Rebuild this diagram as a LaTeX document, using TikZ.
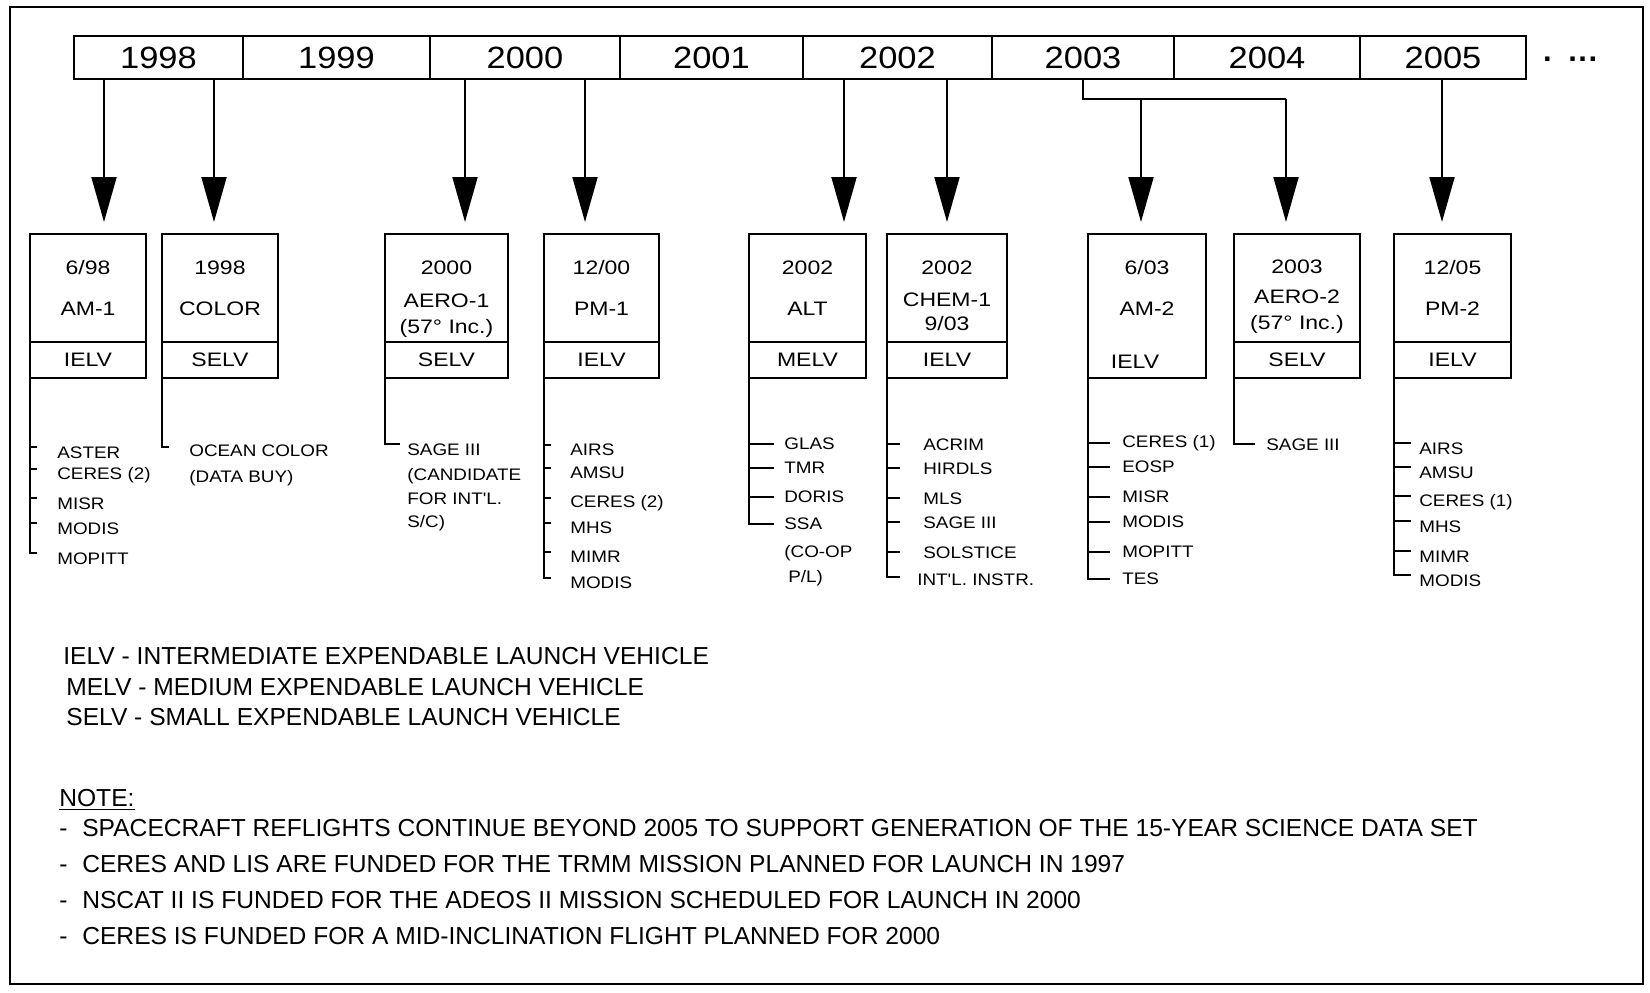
\documentclass[tikz,border=0pt]{standalone}
\usepackage{fontspec}
\setmainfont{Liberation Sans}
\newfontfamily\yrfont[FakeStretch=1.12]{Liberation Sans}
\newfontfamily\bxfont[FakeStretch=1.18]{Liberation Sans}
\newfontfamily\insfont[FakeStretch=1.13]{Liberation Sans}
\usetikzlibrary{arrows.meta}

\tikzset{
  yearcell/.style={draw, line width=1.4pt, minimum height=0.86cm, inner sep=0pt, outer sep=0pt,
    font=\yrfont\fontsize{17.5}{20}\selectfont},
  msnbox/.style={draw, line width=1.4pt, minimum height=2.16cm, inner sep=0pt, outer sep=0pt},
  elvbox/.style={msnbox, minimum height=0.72cm, font=\bxfont\fontsize{11.1}{13}\selectfont},
  bxtxt/.style={inner sep=0pt, font=\bxfont\fontsize{11.1}{13}\selectfont},
  instr/.style={anchor=west, inner sep=0pt, font=\insfont\fontsize{9.5}{11}\selectfont},
  lst/.style={line width=1.3pt, line cap=rect},
  legtxt/.style={anchor=west, inner sep=0pt, font=\fontsize{14}{16}\selectfont},
  downarr/.style={line width=1.1pt, -{Triangle[length=0.9cm,width=0.5cm]}},
}

\begin{document}
\begin{tikzpicture}[x=0.02cm, y=-0.02cm]
  \useasboundingbox (0,0) rectangle (1650,992);
  \draw[line width=1.1pt] (10,7) rectangle (1643,984);

  % year bar
  \foreach \yr/\cx/\bw in {1998/158.5/3.38, 1999/336.5/3.74, 2000/525/3.8, 2001/711.5/3.66,
      2002/897.5/3.78, 2003/1083/3.64, 2004/1267/3.72, 2005/1443/3.32}
    \node[yearcell, minimum width=\bw cm] (y\yr) at (\cx,57.5) {\yr};
  \node[inner sep=0pt, font=\bfseries\fontsize{17.5}{20}\selectfont] (more) at (1571,63) {·\hspace{0.3cm}···};

  % spacecraft boxes
  \foreach \nm/\cx/\bw/\elv in {am1/88/2.32/IELV, col/220/2.32/SELV, aer1/446.5/2.46/SELV,
      pm1/601.5/2.30/IELV, alt/807.5/2.34/MELV, chem/947/2.40/IELV, aer2/1297/2.52/SELV,
      pm2/1452.5/2.34/IELV} {
    \node[msnbox, minimum width=\bw cm] (\nm) at (\cx,288) {};
    \node[elvbox, minimum width=\bw cm] (\nm elv) at (\cx,360) {\elv};
  }
  \node[msnbox, minimum width=2.36cm, minimum height=2.88cm] (am2) at (1147,306) {};
  \node[bxtxt] (am2elv) at (1135,362) {IELV};

  \foreach \nm/\cx/\dt/\sc in {am1/88/{6/98}/AM-1, col/220/1998/COLOR, pm1/601.5/{12/00}/PM-1,
      alt/807.5/2002/ALT, am2/1147/{6/03}/AM-2, pm2/1452.5/{12/05}/PM-2} {
    \node[bxtxt] (\nm d) at (\cx,268) {\dt};
    \node[bxtxt] (\nm n) at (\cx,309) {\sc};
  }
  \node[bxtxt] (aer1d) at (446.5,268) {2000};
  \node[bxtxt] (aer1n) at (446.5,301) {AERO-1};
  \node[bxtxt] (aer1i) at (446.5,328) {(57° Inc.)};
  \node[bxtxt] (chemd) at (947,268) {2002};
  \node[bxtxt] (chemn) at (947,300) {CHEM-1};
  \node[bxtxt] (chemm) at (947,324) {9/03};
  \node[bxtxt] (aer2d) at (1297,267) {2003};
  \node[bxtxt] (aer2n) at (1297,297) {AERO-2};
  \node[bxtxt] (aer2i) at (1297,324) {(57° Inc.)};

  % launch arrows
  \coordinate (tam1) at (104,222);
  \coordinate (tcol) at (214,222);
  \coordinate (taer1) at (465,222);
  \coordinate (tpm1) at (585,222);
  \coordinate (talt) at (844,222);
  \coordinate (tchem) at (947,222);
  \coordinate (tam2) at (1141,222);
  \coordinate (taer2) at (1286,222);
  \coordinate (tpm2) at (1442,222);
  \coordinate (brk) at (1083,99);
  \draw[downarr] (tam1 |- y1998.south) -- (tam1);
  \draw[downarr] (tcol |- y1998.south) -- (tcol);
  \draw[downarr] (taer1 |- y2000.south) -- (taer1);
  \draw[downarr] (tpm1 |- y2000.south) -- (tpm1);
  \draw[downarr] (talt |- y2002.south) -- (talt);
  \draw[downarr] (tchem |- y2002.south) -- (tchem);
  \draw[downarr] (tpm2 |- y2005.south) -- (tpm2);
  \draw[line width=1.1pt] (y2003.south) -- (brk) -- (brk -| taer2);
  \draw[downarr] (brk -| tam2) -- (tam2);
  \draw[downarr] (brk -| taer2) -- (taer2);

  % instrument lists
  \draw[lst] (am1elv.south west) -- (am1elv.south west |- 0,553);
  \foreach \ty/\txt in {447/ASTER, 469/CERES (2), 498/MISR, 523/MODIS, 553/MOPITT} {
    \draw[lst] (am1elv.south west |- 0,\ty) -- ++(6,0);
    \node[instr] (am1i\ty) at (57,\ty+6) {\txt};
  }
  \draw[lst] (colelv.south west) |- ++(6,69);
  \node[instr] (coli1) at (189,451) {OCEAN COLOR};
  \node[instr] (coli2) at (189,478) {(DATA BUY)};
  \draw[lst] (aer1elv.south west) |- ++(14,66);
  \foreach \ty/\txt in {450/SAGE III, 476/(CANDIDATE, 499/FOR INT'L., 523/{S/C)}}
    \node[instr] (aer1i\ty) at (407,\ty) {\txt};
  \draw[lst] (pm1elv.south west) -- (pm1elv.south west |- 0,578);
  \foreach \ty/\txt in {445/AIRS, 468/AMSU, 498/CERES (2), 523/MHS, 552/MIMR, 578/MODIS} {
    \draw[lst] (pm1elv.south west |- 0,\ty) -- ++(6,0);
    \node[instr] (pm1i\ty) at (570,\ty+5) {\txt};
  }
  \draw[lst] (altelv.south west) -- (altelv.south west |- 0,524);
  \foreach \ty/\txt in {444/GLAS, 468/TMR, 497/DORIS, 524/SSA} {
    \draw[lst] (altelv.south west |- 0,\ty) -- ++(24,0);
    \node[instr] (alti\ty) at (784,\ty) {\txt};
  }
  \node[instr] (altc1) at (784,553) {(CO-OP};
  \node[instr] (altc2) at (788,578) {P/L)};
  \draw[lst] (chemelv.south west) -- (chemelv.south west |- 0,577);
  \foreach \ty/\txt in {444/ACRIM, 468/HIRDLS, 498/MLS, 522/SAGE III, 552/SOLSTICE} {
    \draw[lst] (chemelv.south west |- 0,\ty) -- ++(12,0);
    \node[instr] (chemi\ty) at (923,\ty+1) {\txt};
  }
  \draw[lst] (chemelv.south west |- 0,577) -- ++(12,0);
  \node[instr] (chemi577) at (917,580) {INT'L. INSTR.};
  \draw[lst] (am2.south west) -- (am2.south west |- 0,579);
  \foreach \ty/\txt in {443/CERES (1), 467/EOSP, 497/MISR, 522/MODIS, 552/MOPITT, 579/TES} {
    \draw[lst] (am2.south west |- 0,\ty) -- ++(21,0);
    \node[instr] (am2i\ty) at (1122,\ty) {\txt};
  }
  \draw[lst] (aer2elv.south west) |- ++(20,66);
  \node[instr] (aer2i1) at (1266,445) {SAGE III};
  \draw[lst] (pm2elv.south west) -- (pm2elv.south west |- 0,575);
  \foreach \ty/\txt in {443/AIRS, 467/AMSU, 496/CERES (1), 521/MHS, 551/MIMR, 575/MODIS} {
    \draw[lst] (pm2elv.south west |- 0,\ty) -- ++(16,0);
    \node[instr] (pm2i\ty) at (1419,\ty+6) {\txt};
  }

  % legend and notes
  \node[legtxt] (lgi) at (63,656) {IELV - INTERMEDIATE EXPENDABLE LAUNCH VEHICLE};
  \node[legtxt] (lgm) at (66,687) {MELV - MEDIUM EXPENDABLE LAUNCH VEHICLE};
  \node[legtxt] (lgs) at (66,717) {SELV - SMALL EXPENDABLE LAUNCH VEHICLE};
  \node[legtxt] (note) at (59,800) {\underline{NOTE:}};
  \node[legtxt] (nt1) at (59,828) {\makebox[0.46cm][l]{-}SPACECRAFT REFLIGHTS CONTINUE BEYOND 2005 TO SUPPORT GENERATION OF THE 15-YEAR SCIENCE DATA SET};
  \node[legtxt] (nt2) at (59,864) {\makebox[0.46cm][l]{-}CERES AND LIS ARE FUNDED FOR THE TRMM MISSION PLANNED FOR LAUNCH IN 1997};
  \node[legtxt] (nt3) at (59,900) {\makebox[0.46cm][l]{-}NSCAT II IS FUNDED FOR THE ADEOS II MISSION SCHEDULED FOR LAUNCH IN 2000};
  \node[legtxt] (nt4) at (59,936) {\makebox[0.46cm][l]{-}CERES IS FUNDED FOR A MID-INCLINATION FLIGHT PLANNED FOR 2000};
\end{tikzpicture}
\end{document}
